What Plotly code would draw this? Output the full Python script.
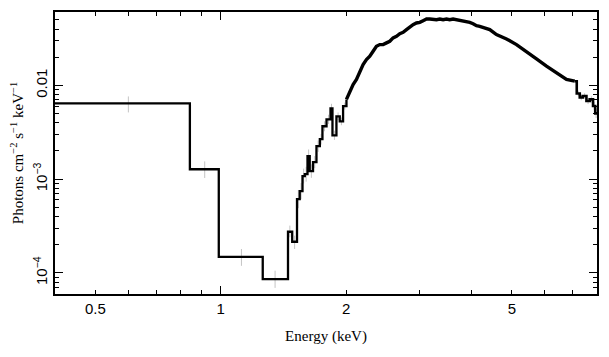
import math
import plotly.graph_objects as go

# ---- data ----
# coarse low-energy bins: left edges and fluxes
coarse_edges = [0.40, 0.843, 0.989, 1.261, 1.450, 1.484]
coarse_flux = [6.44e-3, 1.276e-3, 1.48e-4, 8.57e-5, 2.75e-4, 2.15e-4]

# finer bins 1.5-2 keV (left edges)
low_energy = [1.524, 1.547, 1.571, 1.591, 1.615, 1.635, 1.665, 1.697, 1.729, 1.754,
              1.794, 1.834, 1.854, 1.895, 1.930, 1.966]
low_flux = [6.13e-4, 7.45e-4, 1.08e-3, 1.13e-3, 1.76e-3, 1.22e-3, 1.52e-3, 2.25e-3, 2.67e-3, 3.67e-3,
            4.35e-3, 5.69e-3, 2.94e-3, 4.68e-3, 4.14e-3, 6.02e-3]
low_rel_err = [0.25, 0.22, 0.20, 0.20, 0.18, 0.18, 0.16, 0.15, 0.14, 0.13,
               0.12, 0.12, 0.12, 0.10, 0.10, 0.09]

# densely binned part 2-7.1 keV
mid_energy = [2.003, 2.040, 2.078, 2.117, 2.157, 2.196, 2.237, 2.279, 2.321, 2.364,
              2.408, 2.453, 2.499, 2.545, 2.592, 2.641, 2.690, 2.740, 2.791, 2.843,
              2.894, 2.949, 3.004, 3.060, 3.117, 3.175, 3.233, 3.294, 3.356, 3.417,
              3.482, 3.545, 3.611, 3.680, 3.747, 3.816, 3.889, 3.960, 4.033, 4.110,
              4.184, 4.422, 4.589, 4.851, 5.127, 5.418, 5.726, 6.051, 6.395, 6.758,
              7.075]
mid_flux = [7.10e-3, 8.70e-3, 1.025e-2, 1.158e-2, 1.419e-2, 1.673e-2, 1.891e-2, 2.050e-2, 2.317e-2, 2.619e-2,
            2.731e-2, 2.731e-2, 2.847e-2, 2.960e-2, 3.217e-2, 3.346e-2, 3.574e-2, 3.690e-2, 3.942e-2, 4.211e-2,
            4.456e-2, 4.645e-2, 4.714e-2, 4.915e-2, 5.124e-2, 5.124e-2, 5.036e-2, 5.036e-2, 5.124e-2, 5.036e-2,
            5.124e-2, 5.036e-2, 5.124e-2, 5.036e-2, 5.036e-2, 4.915e-2, 4.831e-2, 4.714e-2, 4.567e-2, 4.347e-2,
            4.274e-2, 3.942e-2, 3.488e-2, 3.139e-2, 2.731e-2, 2.317e-2, 1.923e-2, 1.605e-2, 1.365e-2, 1.158e-2,
            1.111e-2]

# high-energy bins (left edges)
high_energy = [7.153, 7.273, 7.394, 7.546, 7.685, 7.827, 7.922]
high_flux = [8.22e-3, 7.45e-3, 7.73e-3, 6.84e-3, 7.10e-3, 6.05e-3, 5.04e-3]
high_rel_err = [0.07, 0.07, 0.07, 0.08, 0.08, 0.10, 0.12]
x_end = 8.0

# error bars of the coarse bins
err_energy = [0.60, 0.915, 1.121, 1.350, 1.465, 1.504]
err_high = [7.64e-3, 1.55e-3, 1.80e-4, 1.056e-4, 3.2e-4, 2.5e-4]
err_low = [5.16e-3, 1.03e-3, 1.19e-4, 6.92e-5, 2.4e-4, 1.8e-4]

x_major = [0.5, 1, 2, 5]
x_minor = [0.6, 0.7, 0.8, 0.9, 3, 4, 6, 7]
y_labels = {1e-4: "10<sup>−4</sup>", 1e-3: "10<sup>−3</sup>", 1e-2: "0.01"}
y_minor = [6e-5, 7e-5, 8e-5, 9e-5, 2e-4, 3e-4, 4e-4, 5e-4, 6e-4, 7e-4, 8e-4, 9e-4,
           2e-3, 3e-3, 4e-3, 5e-3, 6e-3, 7e-3, 8e-3, 9e-3, 2e-2, 3e-2, 4e-2, 5e-2, 6e-2]

# ---- build ----
low_x = coarse_edges + low_energy + [mid_energy[0]]
low_y = coarse_flux + low_flux + [mid_flux[0]]
high_x = [mid_energy[-1]] + high_energy + [x_end]
high_y = [mid_flux[-1]] + high_flux + [high_flux[-1]]

def centers(edges):
    return [math.sqrt(edges[i] * edges[i + 1]) for i in range(len(edges) - 1)]

fine_cx = centers(low_energy + [mid_energy[0]]) + centers(high_energy + [x_end])
fine_f = low_flux + high_flux
fine_e = low_rel_err + high_rel_err
fine_plus = [f * e for f, e in zip(fine_f, fine_e)]
fine_minus = [f * e / (1 + e) for f, e in zip(fine_f, fine_e)]

grey = "#c4c4c4"
fig = go.Figure()
mid_c = [math.sqrt(h * l) for h, l in zip(err_high, err_low)]
fig.add_trace(go.Scatter(
    x=err_energy, y=mid_c, mode="markers", marker=dict(size=0.1, color=grey),
    error_y=dict(type="data", symmetric=False,
                 array=[h - c for h, c in zip(err_high, mid_c)],
                 arrayminus=[c - l for l, c in zip(err_low, mid_c)],
                 color=grey, thickness=1, width=0),
    showlegend=False, hoverinfo="skip"))
fig.add_trace(go.Scatter(
    x=fine_cx, y=fine_f, mode="markers", marker=dict(size=0.1, color=grey),
    error_y=dict(type="data", symmetric=False, array=fine_plus, arrayminus=fine_minus,
                 color=grey, thickness=1, width=0),
    showlegend=False, hoverinfo="skip"))
fig.add_trace(go.Scatter(x=low_x, y=low_y, mode="lines",
                         line=dict(color="black", width=2.3, shape="hv"), showlegend=False))
fig.add_trace(go.Scatter(x=mid_energy, y=mid_flux, mode="lines",
                         line=dict(color="black", width=3.4), showlegend=False))
fig.add_trace(go.Scatter(x=high_x, y=high_y, mode="lines",
                         line=dict(color="black", width=2.6, shape="hv"), showlegend=False))
# dummy trace for the overlay axes (long decade ticks)
fig.add_trace(go.Scatter(x=[1], y=[1e-3], xaxis="x2", yaxis="y2", mode="markers",
                         marker=dict(size=0.1, opacity=0), showlegend=False, hoverinfo="skip"))

xr = [math.log10(0.4), math.log10(8.0)]
yr = [-4.225, -1.216]
tick_font = dict(family="Liberation Sans, Arial, sans-serif", size=15, color="black")
title_font = dict(family="Liberation Serif, Times New Roman, serif", size=15, color="black")

fig.update_layout(
    width=609, height=357,
    margin=dict(l=47, r=20, t=4, b=71),
    paper_bgcolor="white", plot_bgcolor="white",
    xaxis=dict(type="log", range=xr, tickmode="array", automargin=False,
               tickvals=x_major + x_minor,
               ticktext=[str(v) for v in x_major] + [""] * len(x_minor),
               ticks="inside", ticklen=4, tickwidth=1, tickcolor="black",
               showline=True, linecolor="black", linewidth=1.5, mirror="ticks",
               showgrid=False, zeroline=False, tickfont=tick_font,
               title=dict(text="Energy (keV)", font=title_font, standoff=15)),
    yaxis=dict(type="log", range=yr, tickmode="array", automargin=False,
               tickvals=list(y_labels.keys()) + y_minor,
               ticktext=list(y_labels.values()) + [""] * len(y_minor),
               ticks="inside", ticklen=4, tickwidth=1, tickcolor="black",
               showline=True, linecolor="black", linewidth=1.5, mirror="ticks",
               showgrid=False, zeroline=False, tickfont=tick_font, tickangle=-90,
               title=dict(text="Photons cm<sup>−2</sup> s<sup>−1</sup> keV<sup>−1</sup>"
                               + "\u00a0" * 6,
                          font=title_font, standoff=13)),
    xaxis2=dict(type="log", range=xr, overlaying="x", anchor="y2", tickmode="array",
                tickvals=[1], ticks="inside", ticklen=8, tickwidth=1, tickcolor="black",
                showticklabels=False, mirror="ticks", showline=False, showgrid=False,
                zeroline=False, automargin=False),
    yaxis2=dict(type="log", range=yr, overlaying="y", anchor="x2", tickmode="array",
                tickvals=[1e-4, 1e-3, 1e-2], ticks="inside", ticklen=8, tickwidth=1,
                tickcolor="black", showticklabels=False, mirror="ticks", showline=False,
                showgrid=False, zeroline=False, automargin=False),
)

fig.write_html("out.html")
